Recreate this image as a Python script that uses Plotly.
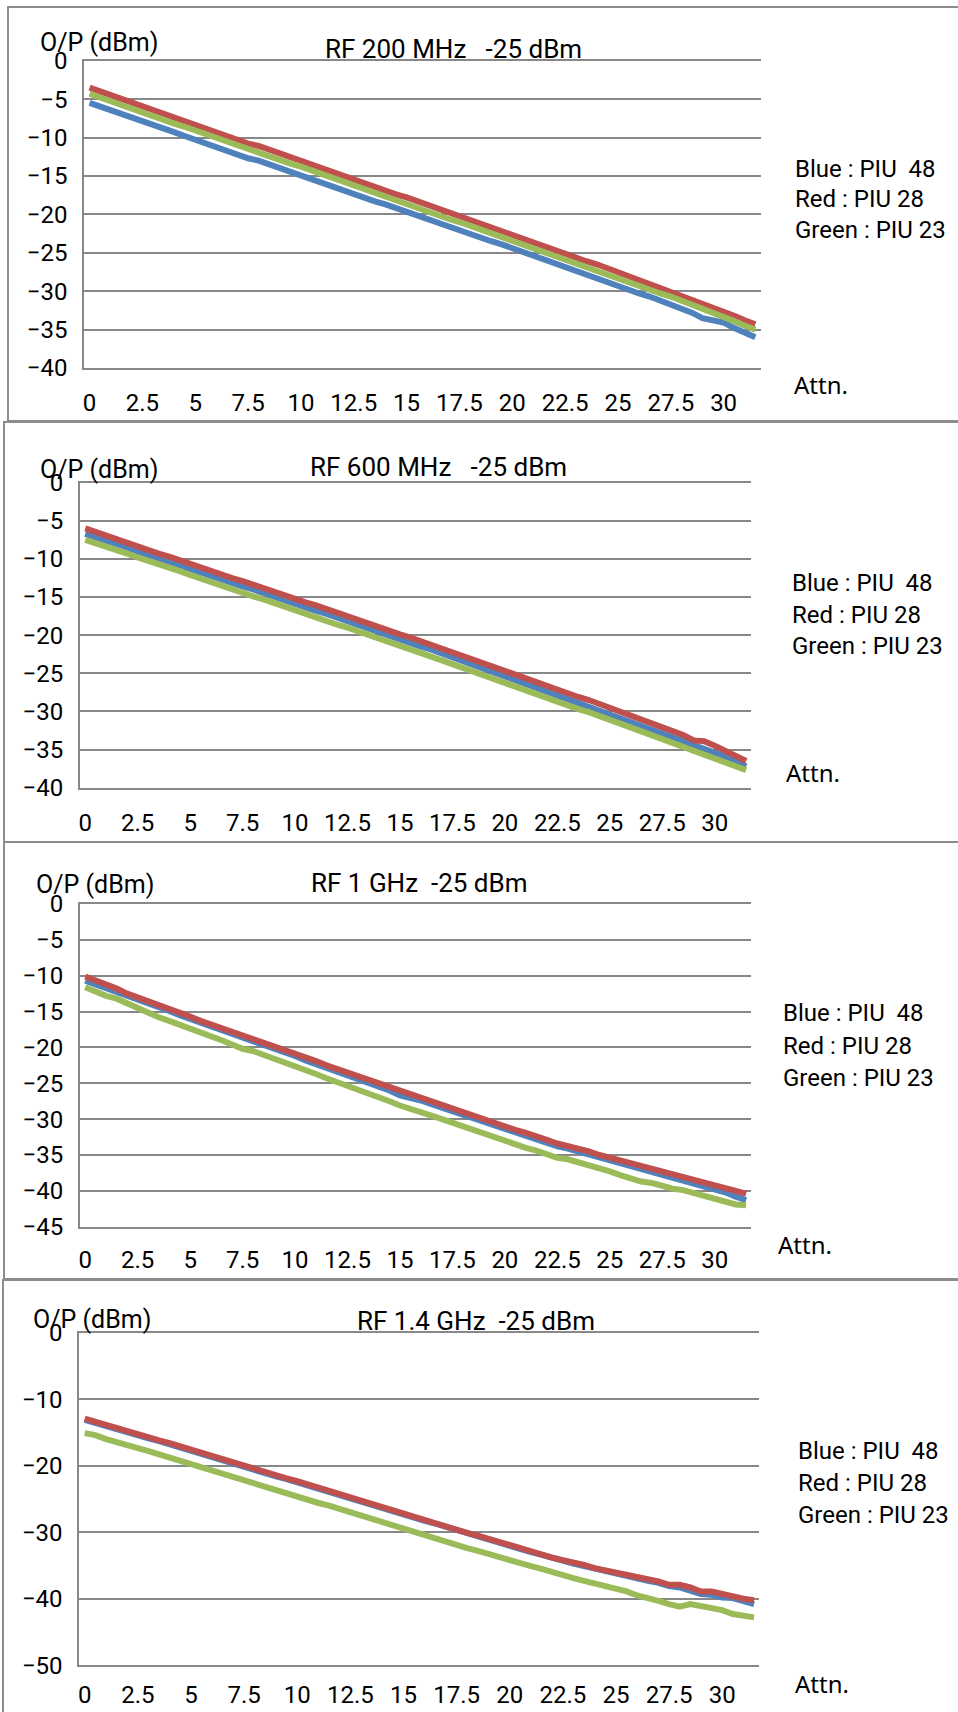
import plotly.graph_objects as go

W, H = 958, 1712

# Attenuation settings (dB), 0.5 dB steps
ATTN = [0.0, 0.5, 1.0, 1.5, 2.0, 2.5, 3.0, 3.5, 4.0, 4.5, 5.0, 5.5, 6.0, 6.5, 7.0, 7.5,
        8.0, 8.5, 9.0, 9.5, 10.0, 10.5, 11.0, 11.5, 12.0, 12.5, 13.0, 13.5, 14.0, 14.5, 15.0, 15.5,
        16.0, 16.5, 17.0, 17.5, 18.0, 18.5, 19.0, 19.5, 20.0, 20.5, 21.0, 21.5, 22.0, 22.5, 23.0, 23.5,
        24.0, 24.5, 25.0, 25.5, 26.0, 26.5, 27.0, 27.5, 28.0, 28.5, 29.0, 29.5, 30.0, 30.5, 31.0, 31.5]

X_TICKS = [0, 2.5, 5, 7.5, 10, 12.5, 15, 17.5, 20, 22.5, 25, 27.5, 30]
X_TICK_TEXT = ["0", "2.5", "5", "7.5", "10", "12.5", "15", "17.5", "20", "22.5", "25", "27.5", "30"]

# ---- RF 200 MHz ----
blue_200 = [-5.5, -6.0, -6.5, -7.0, -7.4, -7.9, -8.4, -8.9, -9.3, -9.8, -10.3, -10.8, -11.2, -11.7, -12.2, -12.7,
            -13.0, -13.5, -14.0, -14.5, -15.0, -15.4, -15.9, -16.4, -16.8, -17.3, -17.8, -18.3, -18.7, -19.2, -19.6, -20.1,
            -20.7, -21.1, -21.6, -22.0, -22.5, -23.0, -23.5, -23.9, -24.4, -24.9, -25.5, -25.9, -26.4, -26.9, -27.4, -27.9,
            -28.4, -28.8, -29.3, -29.8, -30.3, -30.7, -31.2, -31.7, -32.2, -32.8, -33.5, -33.8, -34.1, -34.8, -35.4, -36.0]
red_200 = [-3.5, -4.0, -4.4, -5.0, -5.4, -5.9, -6.4, -6.9, -7.4, -7.8, -8.3, -8.8, -9.3, -9.8, -10.3, -10.8,
           -11.1, -11.6, -12.1, -12.6, -13.1, -13.5, -14.0, -14.5, -15.0, -15.4, -15.9, -16.4, -16.9, -17.4, -17.8, -18.3,
           -18.8, -19.3, -19.8, -20.3, -20.7, -21.2, -21.7, -22.2, -22.6, -23.1, -23.6, -24.2, -24.6, -25.1, -25.6, -26.1,
           -26.5, -27.0, -27.5, -28.0, -28.5, -29.0, -29.5, -30.0, -30.5, -31.0, -31.5, -32.0, -32.6, -33.2, -33.8, -34.3]
green_200 = [-4.3, -4.8, -5.2, -5.7, -6.2, -6.7, -7.2, -7.7, -8.2, -8.6, -9.1, -9.6, -10.1, -10.6, -11.1, -11.6,
             -11.9, -12.4, -12.9, -13.4, -13.8, -14.3, -14.8, -15.3, -15.8, -16.2, -16.7, -17.2, -17.7, -18.2, -18.6, -19.1,
             -19.6, -20.1, -20.6, -21.0, -21.5, -22.0, -22.5, -23.0, -23.4, -23.9, -24.4, -24.9, -25.4, -25.9, -26.4, -26.9,
             -27.3, -27.8, -28.3, -28.8, -29.3, -29.8, -30.3, -30.7, -31.2, -31.7, -32.2, -32.7, -33.3, -33.9, -34.5, -35.0]

# ---- RF 600 MHz ----
blue_600 = [-6.7, -7.1, -7.6, -8.0, -8.5, -9.0, -9.4, -9.9, -10.4, -10.8, -11.3, -11.8, -12.2, -12.7, -13.1, -13.6,
            -14.0, -14.5, -14.9, -15.4, -15.9, -16.3, -16.8, -17.2, -17.7, -18.2, -18.6, -19.1, -19.6, -20.0, -20.5, -21.0,
            -21.5, -21.9, -22.4, -22.9, -23.4, -23.9, -24.4, -24.8, -25.3, -25.8, -26.3, -26.8, -27.3, -27.8, -28.3, -28.8,
            -29.2, -29.7, -30.2, -30.7, -31.2, -31.7, -32.2, -32.7, -33.2, -33.8, -34.4, -34.8, -35.3, -35.9, -36.5, -37.2]
red_600 = [-6.0, -6.5, -6.9, -7.4, -7.9, -8.3, -8.8, -9.3, -9.7, -10.2, -10.7, -11.1, -11.6, -12.0, -12.5, -12.9,
           -13.4, -13.8, -14.2, -14.8, -15.3, -15.7, -16.1, -16.6, -17.1, -17.5, -18.0, -18.4, -18.9, -19.4, -19.9, -20.3,
           -20.8, -21.3, -21.8, -22.2, -22.7, -23.2, -23.7, -24.2, -24.7, -25.2, -25.7, -26.2, -26.7, -27.2, -27.7, -28.1,
           -28.5, -29.0, -29.6, -30.0, -30.5, -31.0, -31.5, -32.0, -32.5, -33.1, -33.8, -33.9, -34.5, -35.1, -35.8, -36.5]
green_600 = [-7.5, -7.9, -8.4, -8.8, -9.3, -9.8, -10.2, -10.7, -11.2, -11.6, -12.1, -12.6, -13.0, -13.5, -13.9, -14.5,
             -14.9, -15.3, -15.8, -16.2, -16.7, -17.2, -17.6, -18.1, -18.6, -19.0, -19.5, -20.0, -20.4, -20.9, -21.4, -21.8,
             -22.3, -22.8, -23.3, -23.8, -24.3, -24.8, -25.3, -25.7, -26.2, -26.7, -27.2, -27.7, -28.2, -28.7, -29.2, -29.7,
             -30.1, -30.5, -31.1, -31.6, -32.1, -32.5, -33.1, -33.6, -34.1, -34.6, -35.1, -35.6, -36.1, -36.6, -37.2, -37.7]

# ---- RF 1 GHz ----
blue_1g = [-10.7, -11.2, -11.7, -12.3, -12.8, -13.4, -13.9, -14.4, -14.9, -15.5, -16.0, -16.6, -17.1, -17.7, -18.2, -18.7,
           -19.1, -19.6, -20.2, -20.7, -21.2, -21.8, -22.3, -22.8, -23.4, -23.9, -24.4, -24.9, -25.4, -26.0, -26.7, -27.0,
           -27.4, -27.9, -28.4, -28.9, -29.5, -30.0, -30.4, -30.9, -31.5, -31.9, -32.3, -32.8, -33.3, -33.8, -34.1, -34.5,
           -34.9, -35.4, -35.8, -36.2, -36.7, -37.1, -37.5, -37.8, -38.3, -38.7, -39.1, -39.5, -39.8, -40.2, -40.8, -41.3]
red_1g = [-10.1, -10.6, -11.2, -11.8, -12.5, -13.0, -13.6, -14.1, -14.6, -15.2, -15.7, -16.3, -16.8, -17.4, -17.9, -18.3,
          -18.7, -19.2, -19.8, -20.3, -20.9, -21.4, -21.9, -22.5, -23.0, -23.5, -24.0, -24.5, -25.0, -25.6, -26.2, -26.6,
          -27.0, -27.5, -28.0, -28.5, -29.1, -29.6, -30.0, -30.5, -31.0, -31.5, -31.9, -32.3, -32.9, -33.4, -33.7, -34.1,
          -34.5, -35.0, -35.4, -35.8, -36.2, -36.6, -37.0, -37.2, -37.6, -38.0, -38.5, -38.9, -39.3, -39.7, -40.0, -40.4]
green_1g = [-11.6, -12.3, -12.8, -13.2, -13.9, -14.6, -15.2, -15.8, -16.3, -16.8, -17.4, -17.9, -18.5, -19.0, -19.6, -20.2,
            -20.5, -21.0, -21.6, -22.1, -22.6, -23.2, -23.7, -24.3, -24.8, -25.3, -25.8, -26.4, -26.9, -27.5, -28.1, -28.5,
            -28.9, -29.5, -30.0, -30.5, -31.1, -31.7, -32.1, -32.6, -33.0, -33.5, -34.0, -34.4, -34.9, -35.4, -35.6, -36.0,
            -36.3, -36.8, -37.3, -37.8, -38.3, -38.7, -38.9, -39.4, -39.7, -39.9, -40.3, -40.7, -41.1, -41.5, -41.9, -42.0]

# ---- RF 1.4 GHz ----
blue_14g = [-13.1, -13.6, -14.0, -14.5, -15.0, -15.4, -15.9, -16.3, -16.8, -17.3, -17.8, -18.2, -18.7, -19.2, -19.6, -20.1,
            -20.6, -21.1, -21.6, -22.0, -22.5, -23.0, -23.4, -23.9, -24.4, -24.9, -25.4, -25.8, -26.3, -26.8, -27.3, -27.8,
            -28.3, -28.7, -29.2, -29.7, -30.2, -30.7, -31.1, -31.6, -32.1, -32.5, -33.0, -33.4, -33.9, -34.3, -34.7, -35.1,
            -35.5, -35.8, -36.2, -36.7, -37.0, -37.3, -37.6, -38.1, -38.3, -38.8, -39.3, -39.4, -39.8, -39.9, -40.3, -40.8]
red_14g = [-12.9, -13.4, -13.9, -14.3, -14.8, -15.3, -15.7, -16.2, -16.6, -17.1, -17.6, -18.0, -18.5, -19.0, -19.5, -20.1,
           -20.5, -20.9, -21.5, -21.9, -22.3, -22.8, -23.3, -23.7, -24.2, -24.7, -25.3, -25.7, -26.1, -26.7, -27.2, -27.6,
           -28.1, -28.6, -29.1, -29.6, -30.1, -30.5, -31.0, -31.5, -32.0, -32.4, -32.9, -33.3, -33.8, -34.2, -34.5, -34.9,
           -35.4, -35.7, -36.1, -36.5, -36.8, -37.1, -37.4, -37.9, -37.9, -38.3, -38.9, -38.9, -39.3, -39.5, -40.0, -40.2]
green_14g = [-15.1, -15.4, -16.0, -16.4, -16.9, -17.4, -17.8, -18.3, -18.8, -19.2, -19.8, -20.3, -20.8, -21.3, -21.8, -22.3,
             -22.6, -23.1, -23.6, -24.1, -24.6, -25.1, -25.6, -26.0, -26.5, -27.0, -27.5, -28.0, -28.5, -28.9, -29.6, -30.1,
             -30.5, -30.9, -31.4, -31.9, -32.4, -32.8, -33.3, -33.8, -34.2, -34.6, -35.1, -35.5, -36.0, -36.6, -36.9, -37.3,
             -37.7, -38.1, -38.4, -38.9, -39.5, -39.8, -40.3, -40.8, -41.2, -40.8, -41.1, -41.4, -41.7, -42.3, -42.6, -42.8]

TITLES = ["RF 200 MHz   -25 dBm", "RF 600 MHz   -25 dBm", "RF 1 GHz  -25 dBm", "RF 1.4 GHz  -25 dBm"]
LEGEND_LINES = ["Blue : PIU  48", "Red : PIU 28", "Green : PIU 23"]
Y_MIN = [-40, -40, -45, -50]
Y_DTICK = [5, 5, 5, 10]
SERIES = [(blue_200, red_200, green_200), (blue_600, red_600, green_600),
          (blue_1g, red_1g, green_1g), (blue_14g, red_14g, green_14g)]

COLORS = ["#4F81BD", "#C0504D", "#9BBB59"]
GRID = "#888888"
FONT = "Roboto, 'Liberation Sans', sans-serif"


def px(x):
    return x / W


def py(y):
    return 1 - y / H


def nb(s):
    return s.replace("  ", "\u00a0\u00a0").replace("\u00a0 ", "\u00a0\u00a0")


# panel geometry in pixels
PLOT_BOX = [(84.3, 760.6, 60.7, 368.0), (80.0, 751.4, 482.7, 787.7),
            (80.0, 751.4, 904.0, 1226.7), (79.4, 759.4, 1332.7, 1665.3)]
X_STANDOFF = [12, 12, 10, 7]
FRAME = [(8, 7, 990, 421), (4, 422, 990, 842), (4, 842, 990, 1279), (3, 1280, 990, 1740)]
TITLE_POS = [(453.7, 49.5), (438, 467), (419, 883), (475.5, 1321)]
OP_POS = [(38, 43), (38, 469), (33.6, 884), (30.5, 1319)]
LEG_POS = [(793, [169, 199, 230]), (790, [583, 615, 646]), (781, [1013, 1046, 1077.5]), (796, [1450.5, 1482.5, 1514.7])]
ATTN_POS = [(792, 384), (784, 772), (776, 1244), (793, 1683)]

fig = go.Figure()
layout = dict(width=W, height=H, margin=dict(l=0, r=0, t=0, b=0, pad=0, autoexpand=False), autosize=False,
              paper_bgcolor="white", plot_bgcolor="rgba(0,0,0,0)", showlegend=False,
              font=dict(family=FONT, size=24, color="black"))
annotations = []
shapes = []

for i in range(4):
    suffix = "" if i == 0 else str(i + 1)
    xa, ya = "x" + suffix, "y" + suffix
    x0, x1, yt, yb = PLOT_BOX[i]
    for s, col in zip(SERIES[i], COLORS):
        fig.add_trace(go.Scatter(x=ATTN, y=s, mode="lines", xaxis=xa, yaxis=ya,
                                 line=dict(color=col, width=6), hoverinfo="skip"))
    layout["xaxis" + suffix] = dict(
        domain=[px(x0), px(x1)], anchor=ya, range=[-0.25, 31.75], automargin=False,
        tickvals=X_TICKS, ticktext=X_TICK_TEXT, showgrid=False, zeroline=False,
        showline=True, mirror=True, linecolor=GRID, linewidth=2, ticks="",
        ticklabelstandoff=X_STANDOFF[i],
        tickfont=dict(family=FONT, size=24, color="black"), fixedrange=True)
    layout["yaxis" + suffix] = dict(
        domain=[py(yb), py(yt)], anchor=xa, range=[Y_MIN[i], 0], dtick=Y_DTICK[i], automargin=False,
        tick0=0, showgrid=True, gridcolor=GRID, gridwidth=2, zeroline=False,
        showline=True, linecolor=GRID, linewidth=2, ticks="", ticklabelstandoff=10,
        tickfont=dict(family=FONT, size=24, color="black"), fixedrange=True)

    fx0, fy0, fx1, fy1 = FRAME[i]
    shapes.append(dict(type="rect", xref="paper", yref="paper",
                       x0=px(fx0), x1=px(fx1), y0=py(fy1), y1=py(fy0),
                       line=dict(color="#8c8c8c", width=2), layer="below"))

    tx, ty = TITLE_POS[i]
    annotations.append(dict(text=nb(TITLES[i]), x=px(tx), y=py(ty), xref="paper", yref="paper",
                            xanchor="center", yanchor="middle", showarrow=False,
                            font=dict(family=FONT, size=26, color="black")))
    ox, oy = OP_POS[i]
    annotations.append(dict(text="O/P (dBm)", x=px(ox), y=py(oy), xref="paper", yref="paper",
                            xanchor="left", yanchor="middle", showarrow=False,
                            font=dict(family=FONT, size=25, color="black")))
    lx, lys = LEG_POS[i]
    for t, ly in zip(LEGEND_LINES, lys):
        annotations.append(dict(text=nb(t), x=px(lx), y=py(ly), xref="paper", yref="paper",
                                xanchor="left", yanchor="middle", showarrow=False,
                                font=dict(family=FONT, size=24, color="black")))
    ax_, ay_ = ATTN_POS[i]
    annotations.append(dict(text="Attn.", x=px(ax_), y=py(ay_), xref="paper", yref="paper",
                            xanchor="left", yanchor="middle", showarrow=False,
                            font=dict(family="'Noto Sans', sans-serif", size=24, color="black")))

layout["annotations"] = annotations
layout["shapes"] = shapes
fig.update_layout(**layout)
fig.write_html("out.html", config={"displayModeBar": False},
               post_script="document.body.style.margin='0';document.body.style.padding='0';")
